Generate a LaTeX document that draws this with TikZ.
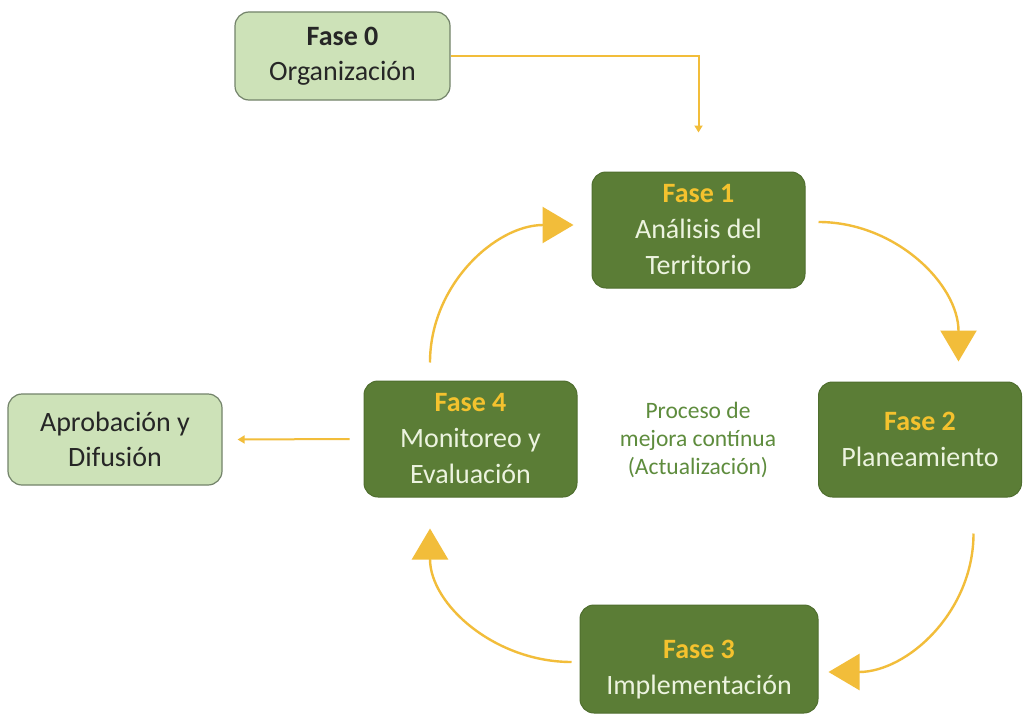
\documentclass[tikz,border=0pt]{standalone}
\usepackage{fontspec}
\setmainfont{Carlito}
\usetikzlibrary{arrows.meta}

\definecolor{darkbox}{HTML}{5B7D36}
\definecolor{darkedge}{HTML}{4F6E2E}
\definecolor{lightbox}{HTML}{CDE2B8}
\definecolor{lightedge}{HTML}{73836A}
\definecolor{phase}{HTML}{F4C22E}
\definecolor{boxtext}{HTML}{ECF3DF}
\definecolor{flow}{HTML}{F2BD3A}
\definecolor{note}{HTML}{5E8C3D}

\tikzset{
  darkstep/.style={draw=darkedge, line width=1pt, fill=darkbox, rounded corners=14pt,
    text=boxtext, align=center, inner sep=0pt,
    font=\fontsize{28}{36}\selectfont},
  lightstep/.style={draw=lightedge, line width=1.2pt, fill=lightbox, rounded corners=14pt,
    text=black!85, align=center, inner sep=0pt,
    font=\fontsize{28}{35}\selectfont},
  cyclearrow/.style={draw=flow, line width=2.4pt,
    -{Triangle[width=36pt,length=31pt]}},
  thinarrow/.style={draw=flow, line width=2pt,
    -{Triangle[width=8pt,length=7pt]}},
}

\begin{document}
\begin{tikzpicture}[x=1pt,y=-1pt]
  \useasboundingbox (0,0) rectangle (1023,717);
  \fill[white] (0,0) rectangle (1023,717);

  % phase boxes
  \node[lightstep, minimum width=215pt, minimum height=88pt] (f0) at (342.5,56)
    {\textbf{Fase 0}\\Organización};
  \node[darkstep, minimum width=213pt, minimum height=116pt] (f1) at (698.5,230)
    {\textcolor{phase}{\textbf{Fase 1}}\\Análisis del\\Territorio};
  \node[darkstep, minimum width=203pt, minimum height=115pt] (f2) at (920,439.5)
    {\textcolor{phase}{\textbf{Fase 2}}\\Planeamiento};
  % the strut sets the two lines a little below the box centre
  \node[darkstep, minimum width=238pt, minimum height=108pt] (f3) at (699,659)
    {\rule{0pt}{40pt}\textcolor{phase}{\textbf{Fase 3}}\\Implementación};
  \node[darkstep, minimum width=213pt, minimum height=116pt] (f4) at (470.5,439)
    {\textcolor{phase}{\textbf{Fase 4}}\\Monitoreo y\\Evaluación};
  \node[lightstep, minimum width=214pt, minimum height=91pt] (ap) at (115,439.5)
    {Aprobación y\\Difusión};

  % centre label
  \node[text=note, align=center, font=\fontsize{23.5}{28}\selectfont] (mejora) at (698,440)
    {Proceso de\\mejora contínua\\(Actualización)};

  % entry and exit connectors
  \draw[thinarrow] (f0.east) -| ([yshift=39pt]f1.north);
  \draw[thinarrow] ([xshift=-14pt]f4.west) -- ([xshift=15pt]ap.east);

  % improvement cycle
  \draw[cyclearrow] ([xshift=13pt,yshift=8pt]f1.east) to[out=0,in=90]
    ([xshift=38.5pt,yshift=20pt]f2.north);
  \draw[cyclearrow] ([xshift=53.5pt,yshift=-36pt]f2.south) to[out=-90,in=0]
    ([xshift=10pt,yshift=-13pt]f3.east);
  \draw[cyclearrow] ([xshift=-8pt,yshift=-3pt]f3.west) to[out=180,in=-90]
    ([xshift=-40.5pt,yshift=-31pt]f4.south);
  \draw[cyclearrow] ([xshift=-40.5pt,yshift=18pt]f4.north) to[out=90,in=180]
    ([xshift=-18pt,yshift=5pt]f1.west);
\end{tikzpicture}
\end{document}
